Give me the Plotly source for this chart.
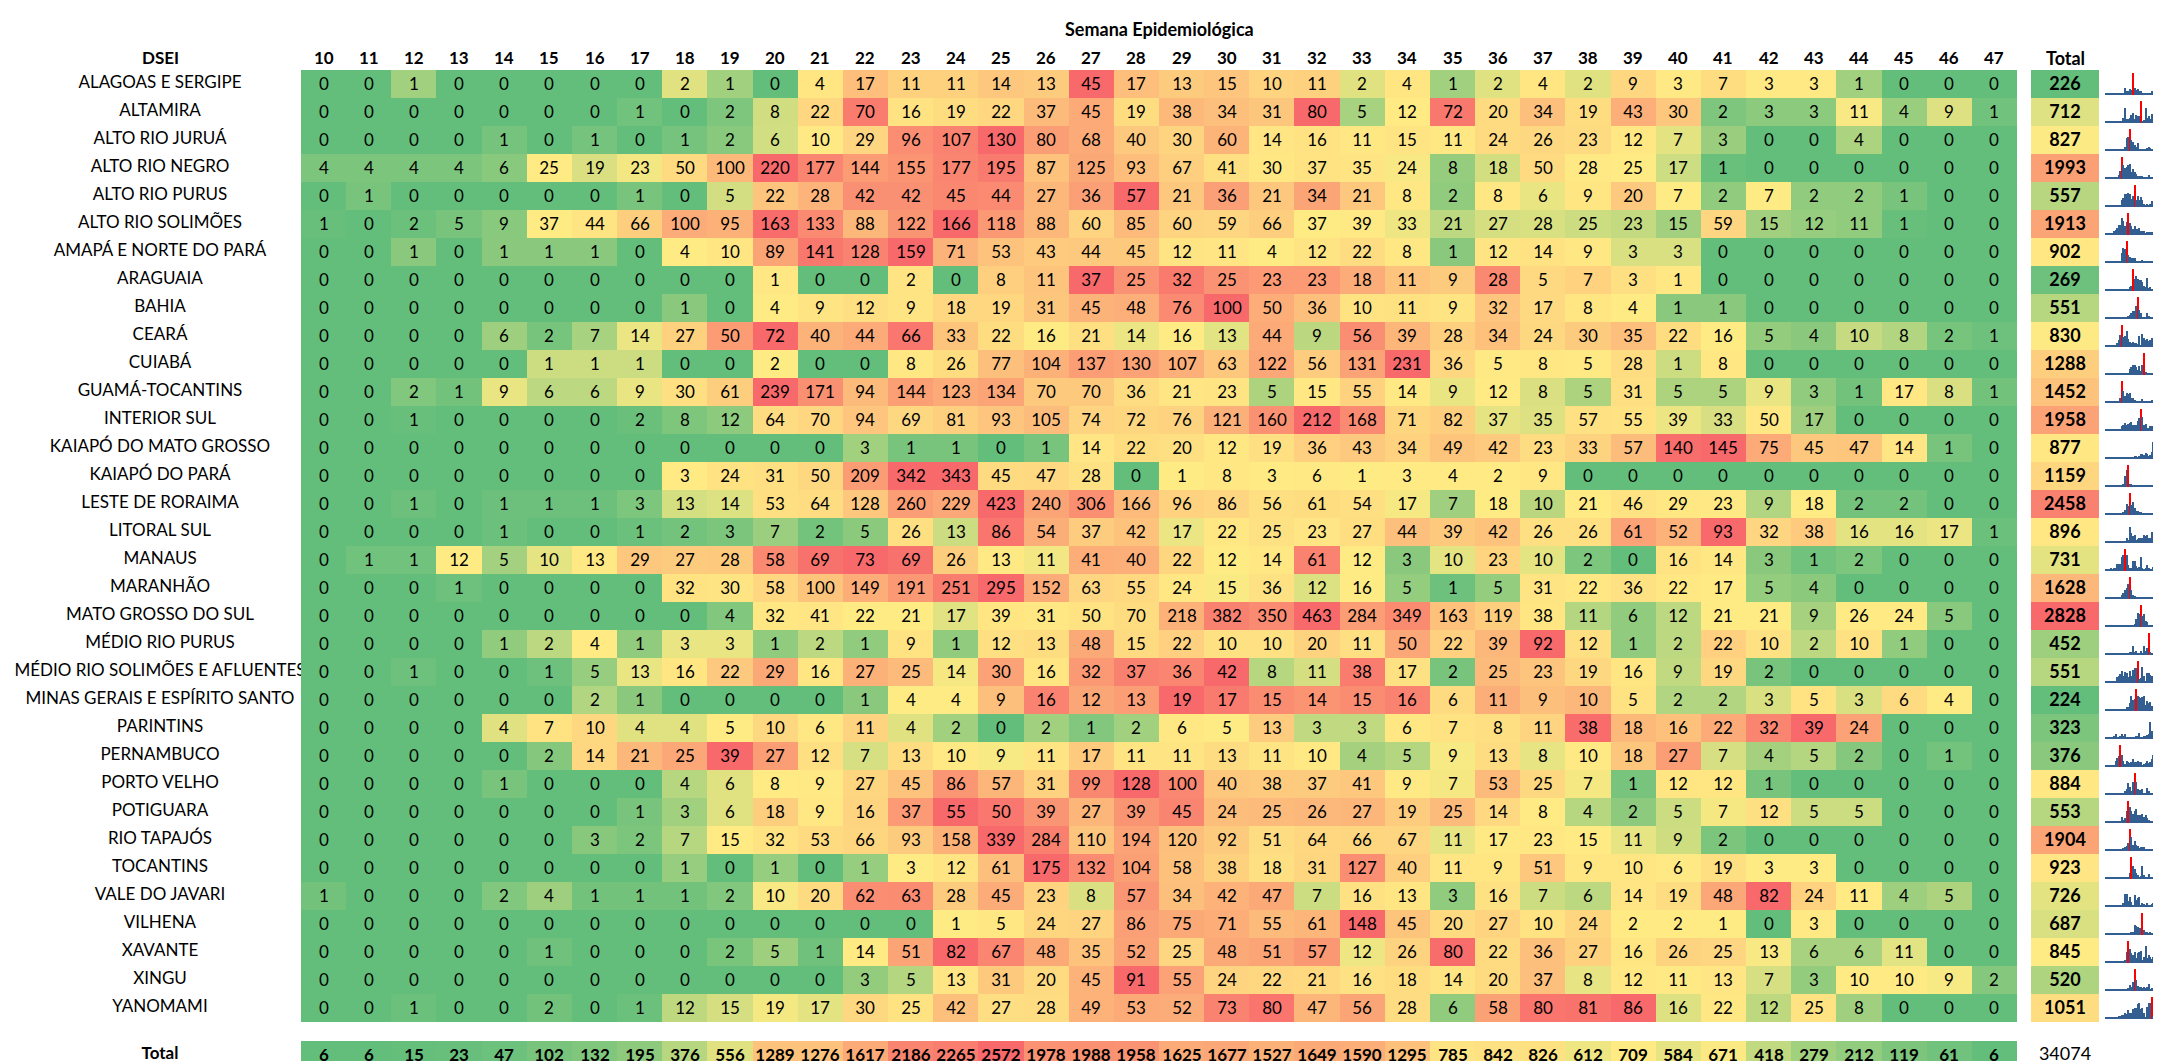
import plotly.graph_objects as go
import numpy as np

W, H = 2161, 1061

weeks = [str(w) for w in range(10, 48)]

dsei = ["ALAGOAS E SERGIPE", "ALTAMIRA", "ALTO RIO JURUÁ", "ALTO RIO NEGRO", "ALTO RIO PURUS",
        "ALTO RIO SOLIMÕES", "AMAPÁ E NORTE DO PARÁ", "ARAGUAIA", "BAHIA", "CEARÁ", "CUIABÁ",
        "GUAMÁ-TOCANTINS", "INTERIOR SUL", "KAIAPÓ DO MATO GROSSO", "KAIAPÓ DO PARÁ",
        "LESTE DE RORAIMA", "LITORAL SUL", "MANAUS", "MARANHÃO", "MATO GROSSO DO SUL",
        "MÉDIO RIO PURUS", "MÉDIO RIO SOLIMÕES E AFLUENTES", "MINAS GERAIS E ESPÍRITO SANTO",
        "PARINTINS", "PERNAMBUCO", "PORTO VELHO", "POTIGUARA", "RIO TAPAJÓS", "TOCANTINS",
        "VALE DO JAVARI", "VILHENA", "XAVANTE", "XINGU", "YANOMAMI"]

alagoas_e_sergipe = [0,0,1,0,0,0,0,0,2,1,0,4,17,11,11,14,13,45,17,13,15,10,11,2,4,1,2,4,2,9,3,7,3,3,1,0,0,0]
altamira = [0,0,0,0,0,0,0,1,0,2,8,22,70,16,19,22,37,45,19,38,34,31,80,5,12,72,20,34,19,43,30,2,3,3,11,4,9,1]
alto_rio_jurua = [0,0,0,0,1,0,1,0,1,2,6,10,29,96,107,130,80,68,40,30,60,14,16,11,15,11,24,26,23,12,7,3,0,0,4,0,0,0]
alto_rio_negro = [4,4,4,4,6,25,19,23,50,100,220,177,144,155,177,195,87,125,93,67,41,30,37,35,24,8,18,50,28,25,17,1,0,0,0,0,0,0]
alto_rio_purus = [0,1,0,0,0,0,0,1,0,5,22,28,42,42,45,44,27,36,57,21,36,21,34,21,8,2,8,6,9,20,7,2,7,2,2,1,0,0]
alto_rio_solimoes = [1,0,2,5,9,37,44,66,100,95,163,133,88,122,166,118,88,60,85,60,59,66,37,39,33,21,27,28,25,23,15,59,15,12,11,1,0,0]
amapa = [0,0,1,0,1,1,1,0,4,10,89,141,128,159,71,53,43,44,45,12,11,4,12,22,8,1,12,14,9,3,3,0,0,0,0,0,0,0]
araguaia = [0,0,0,0,0,0,0,0,0,0,1,0,0,2,0,8,11,37,25,32,25,23,23,18,11,9,28,5,7,3,1,0,0,0,0,0,0,0]
bahia = [0,0,0,0,0,0,0,0,1,0,4,9,12,9,18,19,31,45,48,76,100,50,36,10,11,9,32,17,8,4,1,1,0,0,0,0,0,0]
ceara = [0,0,0,0,6,2,7,14,27,50,72,40,44,66,33,22,16,21,14,16,13,44,9,56,39,28,34,24,30,35,22,16,5,4,10,8,2,1]
cuiaba = [0,0,0,0,0,1,1,1,0,0,2,0,0,8,26,77,104,137,130,107,63,122,56,131,231,36,5,8,5,28,1,8,0,0,0,0,0,0]
guama_tocantins = [0,0,2,1,9,6,6,9,30,61,239,171,94,144,123,134,70,70,36,21,23,5,15,55,14,9,12,8,5,31,5,5,9,3,1,17,8,1]
interior_sul = [0,0,1,0,0,0,0,2,8,12,64,70,94,69,81,93,105,74,72,76,121,160,212,168,71,82,37,35,57,55,39,33,50,17,0,0,0,0]
kaiapo_mt = [0,0,0,0,0,0,0,0,0,0,0,0,3,1,1,0,1,14,22,20,12,19,36,43,34,49,42,23,33,57,140,145,75,45,47,14,1,0]
kaiapo_pa = [0,0,0,0,0,0,0,0,3,24,31,50,209,342,343,45,47,28,0,1,8,3,6,1,3,4,2,9,0,0,0,0,0,0,0,0,0,0]
leste_roraima = [0,0,1,0,1,1,1,3,13,14,53,64,128,260,229,423,240,306,166,96,86,56,61,54,17,7,18,10,21,46,29,23,9,18,2,2,0,0]
litoral_sul = [0,0,0,0,1,0,0,1,2,3,7,2,5,26,13,86,54,37,42,17,22,25,23,27,44,39,42,26,26,61,52,93,32,38,16,16,17,1]
manaus = [0,1,1,12,5,10,13,29,27,28,58,69,73,69,26,13,11,41,40,22,12,14,61,12,3,10,23,10,2,0,16,14,3,1,2,0,0,0]
maranhao = [0,0,0,1,0,0,0,0,32,30,58,100,149,191,251,295,152,63,55,24,15,36,12,16,5,1,5,31,22,36,22,17,5,4,0,0,0,0]
mato_grosso_sul = [0,0,0,0,0,0,0,0,0,4,32,41,22,21,17,39,31,50,70,218,382,350,463,284,349,163,119,38,11,6,12,21,21,9,26,24,5,0]
medio_rio_purus = [0,0,0,0,1,2,4,1,3,3,1,2,1,9,1,12,13,48,15,22,10,10,20,11,50,22,39,92,12,1,2,22,10,2,10,1,0,0]
medio_rio_solimoes = [0,0,1,0,0,1,5,13,16,22,29,16,27,25,14,30,16,32,37,36,42,8,11,38,17,2,25,23,19,16,9,19,2,0,0,0,0,0]
minas_es = [0,0,0,0,0,0,2,1,0,0,0,0,1,4,4,9,16,12,13,19,17,15,14,15,16,6,11,9,10,5,2,2,3,5,3,6,4,0]
parintins = [0,0,0,0,4,7,10,4,4,5,10,6,11,4,2,0,2,1,2,6,5,13,3,3,6,7,8,11,38,18,16,22,32,39,24,0,0,0]
pernambuco = [0,0,0,0,0,2,14,21,25,39,27,12,7,13,10,9,11,17,11,11,13,11,10,4,5,9,13,8,10,18,27,7,4,5,2,0,1,0]
porto_velho = [0,0,0,0,1,0,0,0,4,6,8,9,27,45,86,57,31,99,128,100,40,38,37,41,9,7,53,25,7,1,12,12,1,0,0,0,0,0]
potiguara = [0,0,0,0,0,0,0,1,3,6,18,9,16,37,55,50,39,27,39,45,24,25,26,27,19,25,14,8,4,2,5,7,12,5,5,0,0,0]
rio_tapajos = [0,0,0,0,0,0,3,2,7,15,32,53,66,93,158,339,284,110,194,120,92,51,64,66,67,11,17,23,15,11,9,2,0,0,0,0,0,0]
tocantins = [0,0,0,0,0,0,0,0,1,0,1,0,1,3,12,61,175,132,104,58,38,18,31,127,40,11,9,51,9,10,6,19,3,3,0,0,0,0]
vale_javari = [1,0,0,0,2,4,1,1,1,2,10,20,62,63,28,45,23,8,57,34,42,47,7,16,13,3,16,7,6,14,19,48,82,24,11,4,5,0]
vilhena = [0,0,0,0,0,0,0,0,0,0,0,0,0,0,1,5,24,27,86,75,71,55,61,148,45,20,27,10,24,2,2,1,0,3,0,0,0,0]
xavante = [0,0,0,0,0,1,0,0,0,2,5,1,14,51,82,67,48,35,52,25,48,51,57,12,26,80,22,36,27,16,26,25,13,6,6,11,0,0]
xingu = [0,0,0,0,0,0,0,0,0,0,0,0,3,5,13,31,20,45,91,55,24,22,21,16,18,14,20,37,8,12,11,13,7,3,10,10,9,2]
yanomami = [0,0,1,0,0,2,0,1,12,15,19,17,30,25,42,27,28,49,53,52,73,80,47,56,28,6,58,80,81,86,16,22,12,25,8,0,0,0]

rows = [alagoas_e_sergipe, altamira, alto_rio_jurua, alto_rio_negro, alto_rio_purus,
        alto_rio_solimoes, amapa, araguaia, bahia, ceara, cuiaba, guama_tocantins,
        interior_sul, kaiapo_mt, kaiapo_pa, leste_roraima, litoral_sul, manaus, maranhao,
        mato_grosso_sul, medio_rio_purus, medio_rio_solimoes, minas_es, parintins,
        pernambuco, porto_velho, potiguara, rio_tapajos, tocantins, vale_javari, vilhena,
        xavante, xingu, yanomami]

week_totals = [6,6,15,23,47,102,132,195,376,556,1289,1276,1617,2186,2265,2572,1978,1988,1958,
               1625,1677,1527,1649,1590,1295,785,842,826,612,709,584,671,418,279,212,119,61,6]
row_totals = [sum(r) for r in rows]
grand_total = 34074

# ---------- colour helpers (Excel 3-colour scale: min / median / max) ----------
def scale3(vals):
    v = np.asarray(vals, dtype=float)
    lo, med, hi = v.min(), np.percentile(v, 50), v.max()
    out = np.zeros_like(v)
    for i, x in enumerate(v):
        if x <= med:
            out[i] = 0.0 if med == lo else 0.5 * (x - lo) / (med - lo)
        else:
            out[i] = 0.5 + 0.5 * (x - med) / (hi - med)
    return out

cs = [[0, "#63BE7B"], [0.5, "#FFEB84"], [1, "#F8696B"]]
FONT = "Lato"

z_main = [list(scale3(r)) for r in rows]
z_total_row = [list(scale3(week_totals))]
z_total_col = [[v] for v in scale3(row_totals)]

def fx(p):
    return p / W

def fy(p):
    return 1 - p / H

fig = go.Figure()

# main heatmap
fig.add_trace(go.Heatmap(
    z=z_main, x=list(range(len(weeks))), y=list(range(len(dsei))),
    text=rows, texttemplate="%{text}", textfont=dict(family=FONT, size=17, color="black"),
    colorscale=cs, zmin=0, zmax=1, showscale=False, hoverinfo="skip",
    xaxis="x", yaxis="y"))

# total row
fig.add_trace(go.Heatmap(
    z=z_total_row, x=list(range(len(weeks))), y=[0],
    text=[week_totals], texttemplate="<b>%{text}</b>",
    textfont=dict(family=FONT, size=17, color="black"),
    colorscale=cs, zmin=0, zmax=1, showscale=False, hoverinfo="skip",
    xaxis="x", yaxis="y2"))

# total column
fig.add_trace(go.Heatmap(
    z=z_total_col, x=[0], y=list(range(len(dsei))),
    text=[[v] for v in row_totals], texttemplate="<b>%{text}</b>",
    textfont=dict(family=FONT, size=18, color="black"),
    colorscale=cs, zmin=0, zmax=1, showscale=False, hoverinfo="skip",
    xaxis="x2", yaxis="y"))

# row names (clipped to the name column)
fig.add_trace(go.Scatter(
    x=[152] * len(dsei), y=list(range(len(dsei))), mode="text", text=dsei,
    textfont=dict(family=FONT, size=17, color="black"), cliponaxis=True,
    hoverinfo="skip", xaxis="x3", yaxis="y"))
fig.add_trace(go.Scatter(
    x=[152], y=[0], mode="text", text=["<b>Total</b>"],
    textfont=dict(family=FONT, size=17, color="black"), cliponaxis=False,
    hoverinfo="skip", xaxis="x3", yaxis="y2"))
# grand total
fig.add_trace(go.Scatter(
    x=[0], y=[0], mode="text", text=[str(grand_total)],
    textfont=dict(family=FONT, size=18, color="black"), cliponaxis=False,
    hoverinfo="skip", xaxis="x2", yaxis="y2"))

# sparklines
sx, sy, sb, sc, sw = [], [], [], [], []
for r, vals in enumerate(rows):
    mx = max(vals)
    imax = vals.index(mx)
    for i, v in enumerate(vals):
        h = 0.6 * v / mx
        if i == imax:
            h = 0.78
        h = max(h, 0.03)
        sx.append(i)
        sy.append(-h)
        sb.append(r + 0.38)
        sc.append("#FF0000" if i == imax else "#335E92")
        sw.append(0.9 if i != imax else 0.8)
fig.add_trace(go.Bar(x=sx, y=sy, base=sb, marker=dict(color=sc, line=dict(width=0)),
                     width=sw, hoverinfo="skip", xaxis="x4", yaxis="y"))

top_rows, bot_rows = 62, 1014
tr_top, tr_bot = 1033, 1061

ax_off = dict(visible=False, showgrid=False, zeroline=False, fixedrange=True)
fig.update_layout(
    width=W, height=H, margin=dict(l=0, r=0, t=0, b=0),
    paper_bgcolor="white", plot_bgcolor="rgba(0,0,0,0)", showlegend=False,
    bargap=0,
    xaxis=dict(domain=[fx(293), fx(2009)], range=[-0.5, 37.5], **ax_off),
    yaxis=dict(domain=[fy(bot_rows), fy(top_rows)], range=[33.5, -0.5], **ax_off),
    xaxis2=dict(domain=[fx(2023), fx(2091)], range=[-0.5, 0.5], **ax_off),
    yaxis2=dict(domain=[fy(tr_bot), fy(tr_top)], range=[0.5, -0.5], **ax_off),
    xaxis3=dict(domain=[0, fx(293)], range=[0, 293], **ax_off),
    xaxis4=dict(domain=[fx(2097), fx(2158)], range=[-0.8, 37.8], **ax_off),
)

ann = []
ann.append(dict(text="<b>Semana Epidemiológica</b>", x=fx(1151), y=fy(21), xref="paper", yref="paper",
                showarrow=False, font=dict(family=FONT, size=18, color="black"),
                xanchor="center", yanchor="middle"))
ann.append(dict(text="<b>DSEI</b>", x=fx(152), y=fy(50), xref="paper", yref="paper",
                showarrow=False, font=dict(family=FONT, size=17, color="black"),
                xanchor="center", yanchor="middle"))
for i, w in enumerate(weeks):
    ann.append(dict(text="<b>%s</b>" % w, x=i, y=fy(50), xref="x", yref="paper",
                    showarrow=False, font=dict(family=FONT, size=17, color="black"),
                    xanchor="center", yanchor="middle"))
ann.append(dict(text="<b>Total</b>", x=0, y=fy(50), xref="x2", yref="paper",
                showarrow=False, font=dict(family=FONT, size=18, color="black"),
                xanchor="center", yanchor="middle"))
fig.update_layout(annotations=ann)

fig.write_html("out.html")
